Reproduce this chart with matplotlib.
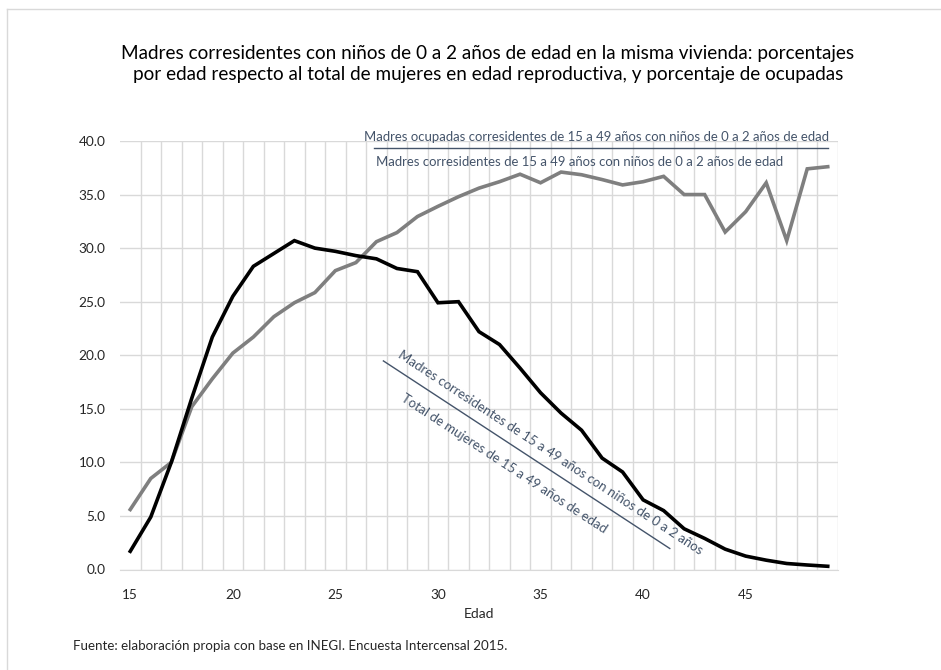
import numpy as np
import matplotlib.pyplot as plt
from matplotlib.lines import Line2D

plt.rcParams['font.family'] = ['Lato', 'DejaVu Sans']

# Data
edad = list(range(15, 50))
madres_total = [1.7, 4.9, 10.0, 16.0, 21.7, 25.5, 28.3, 29.5, 30.7, 30.0,
                29.7, 29.3, 29.0, 28.1, 27.8, 24.9, 25.0, 22.2, 21.0, 18.8,
                16.5, 14.6, 13.0, 10.4, 9.1, 6.5, 5.5, 3.8, 2.9, 1.9,
                1.25, 0.87, 0.56, 0.42, 0.3]
ocupadas_madres = [5.6, 8.5, 10.0, 15.2, 17.8, 20.2, 21.7, 23.6, 24.9, 25.85,
                   27.9, 28.65, 30.6, 31.45, 32.95, 33.9, 34.8, 35.6, 36.2, 36.9,
                   36.1, 37.1, 36.85, 36.4, 35.9, 36.2, 36.7, 35.0, 35.0, 31.5,
                   33.4, 36.1, 30.7, 37.4, 37.6]
y_ticks = [0, 5, 10, 15, 20, 25, 30, 35, 40]
x_ticks = [15, 20, 25, 30, 35, 40, 45]

titulo = ('Madres corresidentes con niños de 0 a 2 años de edad en la misma vivienda: porcentajes\n'
          'por edad respecto al total de mujeres en edad reproductiva, y porcentaje de ocupadas')
lbl_ocup_num = 'Madres ocupadas corresidentes de 15 a 49 años con niños de 0 a 2 años de edad'
lbl_ocup_den = 'Madres corresidentes de 15 a 49 años con niños de 0 a 2 años de edad'
lbl_tot_num = 'Madres corresidentes de 15 a 49 años con niños de 0 a 2 años'
lbl_tot_den = 'Total de mujeres de 15 a 49 años de edad'
fuente = 'Fuente: elaboración propia con base en INEGI. Encuesta Intercensal 2015.'

txt_color = '#44546A'
grid_color = '#D9D9D9'

fig = plt.figure(figsize=(9.41, 6.70), dpi=100)
ax = fig.add_axes([120 / 941, 1 - 569.5 / 670, 718 / 941, 428.5 / 670])

ax.plot(edad, ocupadas_madres, color='#7F7F7F', lw=2.6, solid_joinstyle='miter', zorder=3)
ax.plot(edad, madres_total, color='black', lw=2.6, solid_joinstyle='miter', zorder=4)

ax.set_xlim(14.5, 49.5)
ax.set_ylim(0, 40)
ax.set_xticks(x_ticks)
ax.set_xticks(np.arange(15.5, 49.6, 1), minor=True)
ax.set_yticks(y_ticks)
ax.set_yticklabels([f'{v:.1f}' for v in y_ticks])
ax.grid(axis='x', which='minor', color=grid_color, lw=1)
ax.grid(axis='y', which='major', color=grid_color, lw=1)
ax.tick_params(which='both', length=0)
ax.tick_params(axis='y', pad=10.5, labelsize=9.8, labelcolor='#262626')
ax.tick_params(axis='x', pad=14, labelsize=9.8, labelcolor='#262626')
for s in ['top', 'right', 'left']:
    ax.spines[s].set_visible(False)
ax.spines['bottom'].set_color(grid_color)
ax.set_axisbelow(True)
ax.set_xlabel('Edad', fontsize=10, color='#262626', labelpad=5)

# horizontal "fraction" label for the grey line
ax.text(37.75, 40.4, lbl_ocup_num, ha='center', va='center', fontsize=9.45, color=txt_color)
ax.plot([26.9, 49.0], [39.35, 39.35], color=txt_color, lw=1, clip_on=False)
ax.text(36.9, 38.0, lbl_ocup_den, ha='center', va='center', fontsize=9.45, color=txt_color)

# diagonal "fraction" label for the black line
x0, y0, x1, y1 = 27.34, 19.47, 41.30, 1.96
ax.plot([x0, x1], [y0, y1], color=txt_color, lw=1)
p0 = ax.transData.transform((x0, y0))
p1 = ax.transData.transform((x1, y1))
ang = np.degrees(np.arctan2(p1[1] - p0[1], p1[0] - p0[0]))
ax.text(35.5, 10.9, lbl_tot_num, ha='center', va='center', rotation=ang,
        rotation_mode='anchor', fontsize=9.5, color=txt_color)
ax.text(33.2, 9.9, lbl_tot_den, ha='center', va='center', rotation=ang,
        rotation_mode='anchor', fontsize=9.5, color=txt_color)

fig.text(488 / 941, 1 - 64 / 670, titulo, ha='center', va='center', fontsize=13.6,
         color='black', linespacing=1.3)
fig.text(73 / 941, 1 - 646 / 670, fuente, ha='left', va='center', fontsize=9.6, color='#262626')

# chart area border
fig.add_artist(Line2D([7 / 941, 7 / 941], [0, 1 - 9 / 670], transform=fig.transFigure,
                      color=grid_color, lw=1))
fig.add_artist(Line2D([7 / 941, 1], [1 - 9 / 670, 1 - 9 / 670], transform=fig.transFigure,
                      color=grid_color, lw=1))

fig.savefig('out.png', dpi=100)
